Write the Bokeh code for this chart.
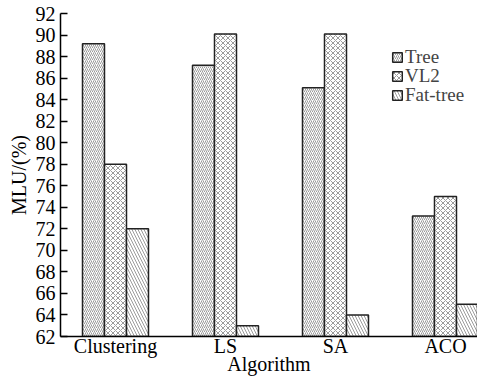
from bokeh.plotting import figure
from bokeh.models import Range1d, FixedTicker, Legend, LegendItem, ColumnDataSource
from bokeh.embed import file_html
from bokeh.resources import INLINE

categories = ["Clustering", "LS", "SA", "ACO"]
tree = [89.2, 87.2, 85.1, 73.2]
vl2 = [78.0, 90.1, 90.1, 75.0]
fat_tree = [72.0, 63.0, 64.0, 65.0]
y_ticks = list(range(62, 93, 2))

FONT = "Liberation Serif"
centers = [i + 0.5 for i in range(len(categories))]
bw = 0.2

p = figure(width=477, height=381, output_backend="svg", toolbar_location=None,
           x_range=Range1d(0, 3.791), y_range=Range1d(62, 92),
           min_border_left=60, min_border_right=0, min_border_top=13, min_border_bottom=45)
p.outline_line_color = None
p.xgrid.visible = False
p.ygrid.visible = False
p.background_fill_color = "white"

series = [("Tree", tree, -bw, "/", 4), ("VL2", vl2, 0.0, "x", 5), ("Fat-tree", fat_tree, bw, "\\", 6)]
legend_y = [268, 249, 230]
for (name, vals, off, pat, sc), ly in zip(series, legend_y):
    src = ColumnDataSource(dict(x=[c + off for c in centers], top=vals))
    r = p.vbar(x="x", top="top", bottom=62, width=bw, source=src,
               fill_color="white", line_color="#222222", line_width=1.5,
               hatch_pattern=pat, hatch_color="#707070", hatch_scale=sc, hatch_weight=0.7)
    lg = Legend(items=[LegendItem(label=name, renderers=[r])], location=(331, ly),
                glyph_width=12, glyph_height=12,
                label_text_font=FONT, label_text_font_size="19px", label_standoff=2,
                padding=0, margin=0, spacing=0, border_line_color=None,
                background_fill_alpha=0)
    p.add_layout(lg)

p.yaxis.ticker = FixedTicker(ticks=y_ticks)
p.yaxis.major_tick_in = 7
p.yaxis.major_tick_out = 0
p.yaxis.minor_tick_line_color = None
p.yaxis.axis_label = "MLU/(%)"
p.xaxis.ticker = FixedTicker(ticks=centers)
p.xaxis.major_label_overrides = {c: n for c, n in zip(centers, categories)}
p.xaxis.major_tick_in = 0
p.xaxis.major_tick_out = 0
p.xaxis.minor_tick_line_color = None
p.xaxis.axis_label = "Algorithm"
for ax in (p.xaxis, p.yaxis):
    ax.axis_line_color = "black"
    ax.axis_line_width = 1.5
    ax.major_tick_line_width = 1.5
    ax.major_label_text_font = FONT
    ax.major_label_text_font_size = "20px"
    ax.major_label_text_color = "black"
    ax.axis_label_text_font = FONT
    ax.axis_label_text_font_size = "20px"
    ax.axis_label_text_font_style = "normal"
    ax.axis_label_text_color = "black"
p.yaxis.major_tick_line_color = "black"
p.xaxis.major_tick_line_color = None
p.yaxis.major_label_standoff = 5
p.yaxis.axis_label_standoff = 3
p.xaxis.major_label_standoff = -2
p.xaxis.axis_label_standoff = -7

open("out.html", "w").write(file_html(p, INLINE))
